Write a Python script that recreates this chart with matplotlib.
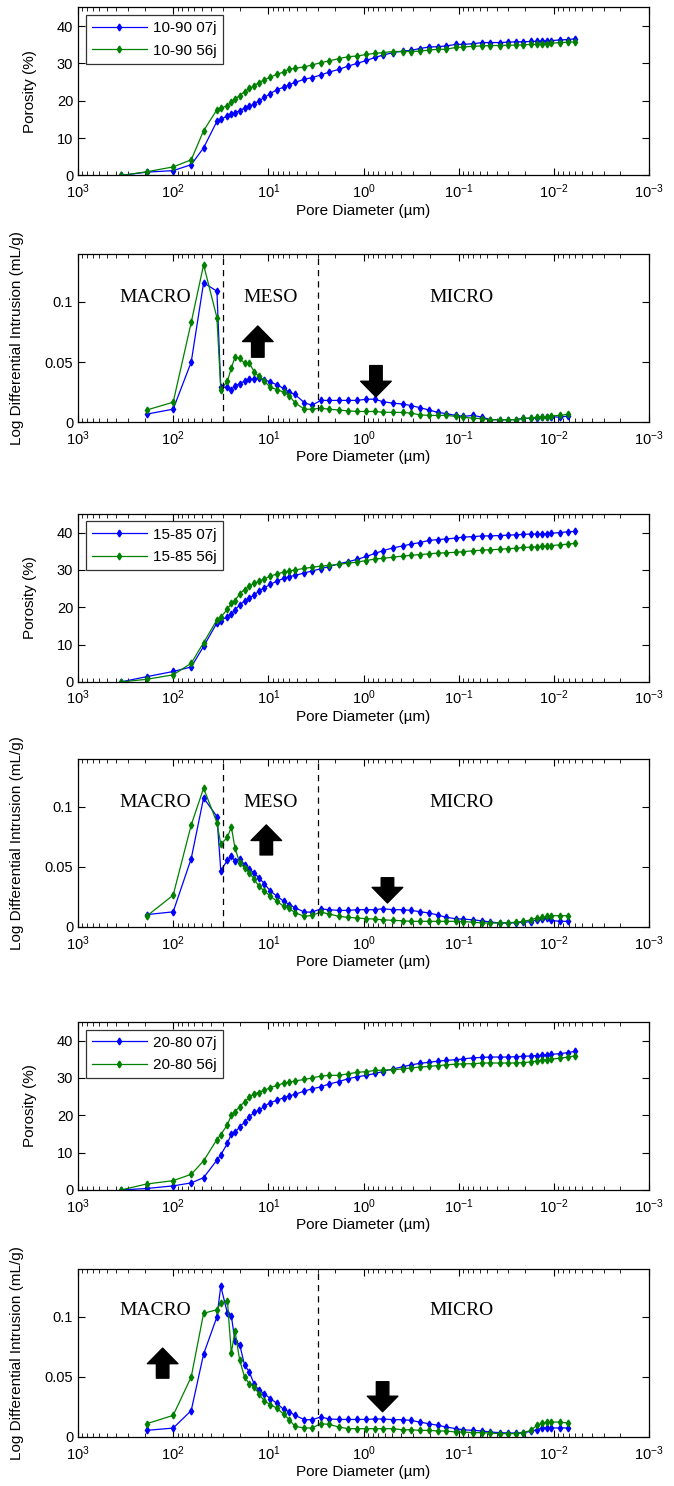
import matplotlib
matplotlib.use("Agg")
import matplotlib.pyplot as plt
from matplotlib.ticker import LogLocator, NullFormatter, FixedLocator, LogFormatterSciNotation

plt.rcParams['font.family'] = ['Liberation Sans', 'DejaVu Sans']
plt.rcParams['font.size'] = 10.5

# pore diameter (um) of the intrusion steps, porosity curves use all of them
diam = [355, 190, 100, 64.6, 47.9, 34.7, 31.6, 26.9, 24.5, 22.4, 20.0, 17.8, 15.8,
        14.1, 12.6, 11.0, 9.55, 8.13, 6.92, 6.03, 5.25, 4.17, 3.47, 2.82, 2.29,
        1.82, 1.45, 1.17, 0.933, 0.759, 0.631, 0.490, 0.389, 0.316, 0.257, 0.204,
        0.166, 0.135, 0.107, 0.0891, 0.0708, 0.0562, 0.0468, 0.0372, 0.0302,
        0.0251, 0.0209, 0.0174, 0.0151, 0.0132, 0.0117, 0.0107, 0.0087, 0.00708,
        0.00603]
# log differential intrusion is given on the inner steps
diam_d = diam[1:-1]
x_ticks = [1e3, 1e2, 1e1, 1e0, 1e-1, 1e-2, 1e-3]

por_1090_07 = [0, 0.9, 1.3, 2.9, 7.4, 14.5, 15.0, 16.0, 16.4, 16.8, 17.4, 18.0, 18.5,
               19.2, 19.9, 20.9, 21.9, 23.0, 23.6, 24.3, 24.9, 25.8, 26.2, 26.9, 27.7,
               28.4, 29.3, 30.0, 30.8, 31.6, 32.2, 32.9, 33.3, 33.5, 34.0, 34.4, 34.5,
               34.7, 35.1, 35.1, 35.3, 35.6, 35.6, 35.6, 35.7, 35.8, 35.8, 35.9, 35.9,
               36.0, 36.0, 36.1, 36.3, 36.4, 36.6]
por_1090_56 = [0, 1.0, 2.3, 4.2, 12.0, 17.6, 18.0, 18.7, 19.6, 20.5, 21.4, 22.4, 23.3,
               24.0, 24.8, 25.6, 26.3, 27.1, 27.7, 28.4, 28.7, 29.1, 29.6, 30.2, 30.7,
               31.3, 31.8, 32.0, 32.4, 32.7, 32.9, 33.2, 33.2, 33.2, 33.3, 33.6, 33.8,
               33.8, 34.3, 34.4, 34.6, 34.7, 34.8, 34.8, 34.9, 34.9, 35.0, 35.1, 35.1,
               35.2, 35.3, 35.4, 35.6, 35.7, 35.8]
ldi_1090_07 = [0.0066, 0.0107, 0.050, 0.116, 0.109, 0.029, 0.029, 0.027, 0.030, 0.032,
               0.034, 0.0355, 0.036, 0.037, 0.035, 0.0335, 0.031, 0.028, 0.025, 0.023,
               0.016, 0.014, 0.018, 0.018, 0.018, 0.018, 0.018, 0.019, 0.019, 0.017,
               0.0157, 0.015, 0.0137, 0.012, 0.010, 0.008, 0.007, 0.0055, 0.0047,
               0.0055, 0.004, 0.002, 0.002, 0.002, 0.002, 0.003, 0.003, 0.0035, 0.004,
               0.004, 0.0045, 0.004, 0.005]
ldi_1090_56 = [0.010, 0.0165, 0.083, 0.131, 0.087, 0.027, 0.034, 0.045, 0.054, 0.053,
               0.049, 0.049, 0.042, 0.038, 0.034, 0.029, 0.027, 0.025, 0.022, 0.016,
               0.0107, 0.0107, 0.0115, 0.0107, 0.010, 0.0093, 0.0088, 0.0088, 0.0088,
               0.0082, 0.008, 0.008, 0.0074, 0.006, 0.0055, 0.0055, 0.0055, 0.0047,
               0.0038, 0.0033, 0.0027, 0.002, 0.0018, 0.002, 0.002, 0.003, 0.0035,
               0.004, 0.0045, 0.0045, 0.005, 0.0055, 0.0065]

por_1585_07 = [0, 1.4, 2.8, 4.0, 9.5, 15.8, 16.4, 17.5, 18.2, 19.3, 20.6, 21.6, 22.5,
               23.2, 24.3, 25.2, 26.1, 27.0, 27.7, 28.2, 28.5, 29.2, 29.7, 30.3, 30.9,
               31.6, 32.2, 32.8, 33.6, 34.4, 35.1, 35.9, 36.4, 36.9, 37.3, 37.9, 38.1,
               38.3, 38.5, 38.8, 38.9, 39.1, 39.1, 39.2, 39.3, 39.4, 39.5, 39.6, 39.6,
               39.6, 39.7, 39.8, 40.0, 40.2, 40.3]
por_1585_56 = [0, 0.7, 1.9, 5.0, 10.5, 16.6, 17.3, 19.5, 21.0, 21.8, 23.6, 24.7, 25.6,
               26.4, 26.9, 27.6, 28.3, 28.9, 29.4, 29.7, 30.0, 30.4, 30.7, 31.0, 31.2,
               31.5, 31.8, 32.1, 32.5, 32.9, 33.1, 33.4, 33.7, 33.9, 34.1, 34.3, 34.5,
               34.6, 34.7, 34.9, 35.1, 35.3, 35.4, 35.5, 35.7, 35.8, 36.0, 36.1, 36.2,
               36.3, 36.4, 36.5, 36.7, 36.9, 37.1]
ldi_1585_07 = [0.0103, 0.0126, 0.057, 0.1075, 0.092, 0.047, 0.0556, 0.059, 0.055, 0.057,
               0.052, 0.048, 0.045, 0.041, 0.036, 0.030, 0.0257, 0.0215, 0.0187, 0.016,
               0.0124, 0.0124, 0.015, 0.0144, 0.0138, 0.0138, 0.0144, 0.0144, 0.0144,
               0.0152, 0.0144, 0.0144, 0.0138, 0.0128, 0.0116, 0.010, 0.008, 0.0069,
               0.0065, 0.006, 0.005, 0.0042, 0.0033, 0.0033, 0.0035, 0.0039, 0.0045,
               0.006, 0.0068, 0.0075, 0.0055, 0.0047, 0.0047]
ldi_1585_56 = [0.009, 0.0265, 0.085, 0.1156, 0.087, 0.069, 0.0746, 0.0835, 0.0656, 0.0536,
               0.0494, 0.045, 0.040, 0.034, 0.030, 0.0257, 0.0215, 0.0173, 0.0154, 0.012,
               0.0088, 0.0097, 0.0124, 0.0108, 0.0088, 0.008, 0.0075, 0.0069, 0.0066,
               0.006, 0.0055, 0.0052, 0.0047, 0.0047, 0.0047, 0.0047, 0.0047, 0.0047,
               0.0045, 0.004, 0.0033, 0.0033, 0.0033, 0.0036, 0.0039, 0.0047, 0.006,
               0.0075, 0.008, 0.0088, 0.0094, 0.0094, 0.0094]

por_2080_07 = [0, 0.4, 1.1, 1.9, 3.3, 8.0, 9.4, 12.5, 15.0, 15.4, 16.9, 18.1, 19.6,
               20.8, 21.3, 22.4, 23.4, 24.0, 24.7, 25.2, 25.6, 26.5, 27.1, 27.6, 28.4,
               29.0, 29.8, 30.3, 30.7, 31.2, 31.7, 32.4, 33.0, 33.5, 33.9, 34.2, 34.5,
               34.7, 34.9, 35.1, 35.4, 35.5, 35.6, 35.6, 35.6, 35.7, 35.8, 35.9, 36.0,
               36.1, 36.2, 36.3, 36.5, 36.8, 37.1]
por_2080_56 = [0, 1.6, 2.5, 4.2, 7.8, 13.5, 14.8, 17.5, 20.0, 21.0, 22.3, 23.6, 24.8,
               25.8, 26.1, 26.7, 27.4, 28.0, 28.6, 28.9, 29.2, 29.6, 30.0, 30.5, 30.7,
               30.7, 31.1, 31.5, 31.7, 32.0, 32.1, 32.2, 32.4, 32.7, 32.9, 33.1, 33.3,
               33.5, 33.7, 33.8, 33.8, 34.0, 34.0, 34.0, 34.0, 34.0, 34.1, 34.3, 34.5,
               34.7, 34.9, 35.0, 35.3, 35.6, 35.9]
ldi_2080_07 = [0.0055, 0.0074, 0.022, 0.069, 0.100, 0.1256, 0.103, 0.101, 0.080, 0.077,
               0.060, 0.054, 0.044, 0.039, 0.036, 0.032, 0.028, 0.023, 0.021, 0.018,
               0.0144, 0.0144, 0.0166, 0.015, 0.0146, 0.0146, 0.0146, 0.0146, 0.015,
               0.015, 0.0144, 0.0144, 0.0138, 0.0124, 0.011, 0.0097, 0.0083, 0.0069,
               0.006, 0.0055, 0.005, 0.0041, 0.0036, 0.0033, 0.0033, 0.0036, 0.0047,
               0.006, 0.0075, 0.0075, 0.0075, 0.0075, 0.0075]
ldi_2080_56 = [0.011, 0.018, 0.050, 0.103, 0.106, 0.112, 0.113, 0.070, 0.088, 0.064,
               0.050, 0.044, 0.042, 0.036, 0.030, 0.027, 0.024, 0.019, 0.0144, 0.0088,
               0.0075, 0.0075, 0.011, 0.0105, 0.0083, 0.0069, 0.0069, 0.0069, 0.0069,
               0.0069, 0.0069, 0.006, 0.006, 0.0055, 0.0055, 0.005, 0.005, 0.0041,
               0.0041, 0.0036, 0.0036, 0.0033, 0.0028, 0.0028, 0.0028, 0.0036, 0.0055,
               0.0097, 0.0116, 0.0124, 0.0124, 0.0124, 0.0116]

mixes = ['10-90', '15-85', '20-80']
porosity = [(por_1090_07, por_1090_56), (por_1585_07, por_1585_56), (por_2080_07, por_2080_56)]
ldi = [(ldi_1090_07, ldi_1090_56), (ldi_1585_07, ldi_1585_56), (ldi_2080_07, ldi_2080_56)]

# region boundaries (um) and labels per differential panel
bounds = [[30, 3], [30, 3], [3]]
region_labels = [[('MACRO', 155), ('MESO', 9.5), ('MICRO', 0.093)],
                 [('MACRO', 155), ('MESO', 9.5), ('MICRO', 0.093)],
                 [('MACRO', 155), ('MICRO', 0.093)]]
region_y = [0.104, 0.104, 0.105]
# arrows: (diameter, tail value, head value)
arrows = [[(12.9, 0.054, 0.080), (0.74, 0.047, 0.021)],
          [(10.5, 0.060, 0.085), (0.56, 0.041, 0.020)],
          [(129, 0.049, 0.074), (0.63, 0.046, 0.021)]]

BLUE = '#0000ff'
GREEN = '#008000'

fig = plt.figure(figsize=(6.74, 14.86), dpi=100)
left, width, height = 78 / 674, 571 / 674, 0.1131
bottoms = [0.8819, 0.7160, 0.5411, 0.3762, 0.1992, 0.0330]


def style_axis(ax):
    ax.set_xscale('log')
    ax.set_xlim(1e3, 1e-3)
    ax.xaxis.set_major_locator(FixedLocator(x_ticks))
    ax.xaxis.set_major_formatter(LogFormatterSciNotation())
    ax.xaxis.set_minor_locator(LogLocator(base=10, subs=range(2, 10), numticks=20))
    ax.xaxis.set_minor_formatter(NullFormatter())
    ax.tick_params(which='both', direction='in', top=True, right=True, labelsize=10.5)
    ax.tick_params(axis='x', which='major', pad=5)
    ax.tick_params(which='major', length=5, width=0.8)
    ax.tick_params(which='minor', length=3, width=0.6)
    ax.set_xlabel('Pore Diameter (\u00b5m)', fontsize=11, labelpad=2)
    for sp in ax.spines.values():
        sp.set_linewidth(0.9)


line_kw = dict(marker='d', markersize=3.5, linewidth=0.9)

for i, mix in enumerate(mixes):
    ax = fig.add_axes([left, bottoms[2 * i], width, height])
    p07, p56 = porosity[i]
    ax.plot(diam, p07, color=BLUE, label=f'{mix} 07j', **line_kw)
    ax.plot(diam, p56, color=GREEN, label=f'{mix} 56j', **line_kw)
    style_axis(ax)
    ax.set_ylim(0, 45)
    ax.yaxis.set_major_locator(FixedLocator([0, 10, 20, 30, 40]))
    ax.set_ylabel('Porosity (%)', fontsize=11)
    ax.yaxis.set_label_coords(-0.072, 0.5)
    leg = ax.legend(loc='upper left', fontsize=11, handlelength=3.6, fancybox=False,
                    borderaxespad=0.5, labelspacing=0.55, handletextpad=0.4)
    leg.get_frame().set_edgecolor('black')
    leg.get_frame().set_linewidth(0.9)

    ax = fig.add_axes([left, bottoms[2 * i + 1], width, height])
    d07, d56 = ldi[i]
    ax.plot(diam_d, d07, color=BLUE, **line_kw)
    ax.plot(diam_d, d56, color=GREEN, **line_kw)
    style_axis(ax)
    ax.set_ylim(0, 0.14)
    ax.yaxis.set_major_locator(FixedLocator([0, 0.05, 0.1]))
    ax.set_yticklabels(['0', '0.05', '0.1'])
    ax.set_ylabel('Log Differential Intrusion (mL/g)', fontsize=11)
    ax.yaxis.set_label_coords(-0.094, 0.5)
    for b in bounds[i]:
        ax.axvline(b, color='black', linestyle=(0, (5, 4)), linewidth=0.9)
    for name, xpos in region_labels[i]:
        ax.text(xpos, region_y[i], name, ha='center', va='center', fontsize=14,
                family='Liberation Serif')
    for xa, y0, y1 in arrows[i]:
        ax.annotate('', xy=(xa, y1), xytext=(xa, y0),
                    arrowprops=dict(arrowstyle='simple,head_length=0.56,head_width=1.1,tail_width=0.45',
                                    mutation_scale=20, fc='black', ec='black',
                                    shrinkA=0, shrinkB=0))

fig.savefig('out.png', dpi=100)
